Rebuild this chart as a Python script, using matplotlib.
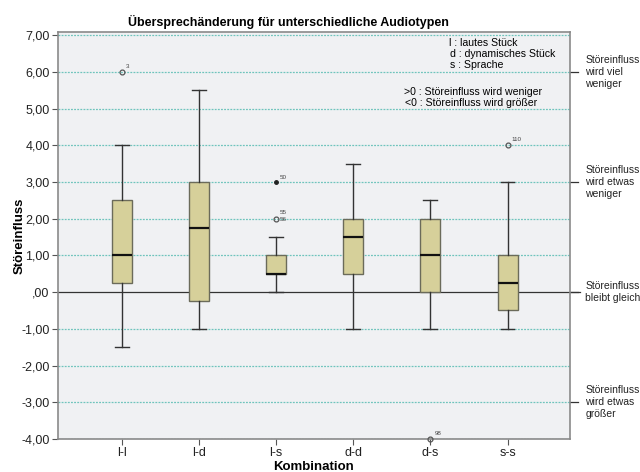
import matplotlib
matplotlib.use('Agg')
import matplotlib.pyplot as plt
import matplotlib.transforms as mtransforms

plt.rcParams['font.family'] = ['Liberation Sans', 'DejaVu Sans']

# Five-number summaries per combination
combos = ['l-l', 'l-d', 'l-s', 'd-d', 'd-s', 's-s']
whislo = [-1.5, -1.0, 0.0, -1.0, -1.0, -1.0]
q1 = [0.25, -0.25, 0.5, 0.5, 0.0, -0.5]
med = [1.0, 1.75, 0.5, 1.5, 1.0, 0.25]
q3 = [2.5, 3.0, 1.0, 2.0, 2.0, 1.0]
whishi = [4.0, 5.5, 1.5, 3.5, 2.5, 3.0]

# outliers: (combination index, value, case label)
out_idx = [0, 2, 4, 5]
out_val = [6.0, 2.0, -4.0, 4.0]
out_lab = ['3', '55\n56', '98', '110']
# extreme values (drawn as small filled dot)
ext_idx = [2]
ext_val = [3.0]
ext_lab = ['50']

yticks = [-4, -3, -2, -1, 0, 1, 2, 3, 4, 5, 6, 7]
ytick_labels = ['-4,00', '-3,00', '-2,00', '-1,00', ',00', '1,00', '2,00',
                '3,00', '4,00', '5,00', '6,00', '7,00']

side_levels = [6, 3, 0, -3]
side_texts = ['Störeinfluss\nwird viel\nweniger',
              'Störeinfluss\nwird etwas\nweniger',
              'Störeinfluss\nbleibt gleich',
              'Störeinfluss\nwird etwas\ngrößer']

fig = plt.figure(figsize=(6.4, 4.72), dpi=100)
ax = fig.add_axes([0.0906, 0.0699, 0.8, 0.862])
ax.set_facecolor('#f0f1f3')

# grid lines
for y in yticks:
    if y == 0:
        continue
    ax.axhline(y, color='#6fc4bc', lw=0.9, ls=(0, (1.5, 1)), zorder=1)

trans = mtransforms.blended_transform_factory(ax.transAxes, ax.transData)
ax.plot([0, 1.02], [0, 0], color='#333333', lw=0.9, transform=trans,
        clip_on=False, zorder=2)

stats = []
for i in range(len(combos)):
    stats.append(dict(med=med[i], q1=q1[i], q3=q3[i], whislo=whislo[i],
                      whishi=whishi[i], fliers=[]))
pos = list(range(1, len(combos) + 1))
ax.bxp(stats, positions=pos, widths=0.26, patch_artist=True,
       boxprops=dict(facecolor='#d6d09a', edgecolor='#6b6b5a', lw=1.0),
       medianprops=dict(color='#111111', lw=1.6),
       whiskerprops=dict(color='#333333', lw=1.0),
       capprops=dict(color='#333333', lw=1.0),
       capwidths=0.18, zorder=3)

for i, v, lab in zip(out_idx, out_val, out_lab):
    ax.plot(pos[i], v, 'o', ms=3.5, mfc='none', mec='#555555', mew=0.9,
            zorder=4, clip_on=False)
    ax.text(pos[i] + 0.05, v + 0.08, lab, fontsize=4.5, color='#444444',
            va='bottom' if '\n' not in lab else 'center', ha='left',
            linespacing=1.6)
for i, v, lab in zip(ext_idx, ext_val, ext_lab):
    ax.plot(pos[i], v, 'o', ms=2.5, color='#222222', zorder=4)
    ax.text(pos[i] + 0.05, v + 0.05, lab, fontsize=4.5, color='#444444',
            va='bottom', ha='left')

ax.set_xlim(0.17, 6.81)
ax.set_ylim(-4, 7.08)
ax.set_xticks(pos)
ax.set_xticklabels(combos, fontsize=9)
ax.set_yticks(yticks)
ax.set_yticklabels(ytick_labels, fontsize=9)
ax.tick_params(length=4, color='#555555', labelcolor='#222222', pad=2)
for sp in ax.spines.values():
    sp.set_color('#8a8a8a')
    sp.set_linewidth(1.2)

ax.set_xlabel('Kombination', fontsize=9.5, fontweight='bold', labelpad=1)
ax.set_ylabel('Störeinfluss', fontsize=9.5, fontweight='bold', labelpad=-3)
fig.text(288 / 640, 1 - 22 / 472, 'Übersprechänderung für unterschiedliche Audiotypen',
         fontsize=9, fontweight='bold', ha='center', va='center')

# legend texts inside plot
fs_leg = 7.6
ax.text(0.763, 0.985, 'l : lautes Stück', transform=ax.transAxes,
        fontsize=fs_leg, va='top', ha='left')
ax.text(0.766, 0.958, 'd : dynamisches Stück', transform=ax.transAxes,
        fontsize=fs_leg, va='top', ha='left')
ax.text(0.766, 0.931, 's : Sprache', transform=ax.transAxes,
        fontsize=fs_leg, va='top', ha='left')
ax.text(0.675, 0.865, '>0 : Störeinfluss wird weniger', transform=ax.transAxes,
        fontsize=fs_leg, va='top', ha='left')
ax.text(0.677, 0.838, '<0 : Störeinfluss wird größer', transform=ax.transAxes,
        fontsize=fs_leg, va='top', ha='left')

# right-side annotations
for y, t in zip(side_levels, side_texts):
    ax.plot([1.0, 1.016], [y, y], color='#333333', lw=0.9, transform=trans,
            clip_on=False)
    ax.text(1.03, y, t, transform=trans, fontsize=7.5, va='center', ha='left',
            linespacing=1.25, color='#222222')

fig.savefig('out.png', dpi=100)
